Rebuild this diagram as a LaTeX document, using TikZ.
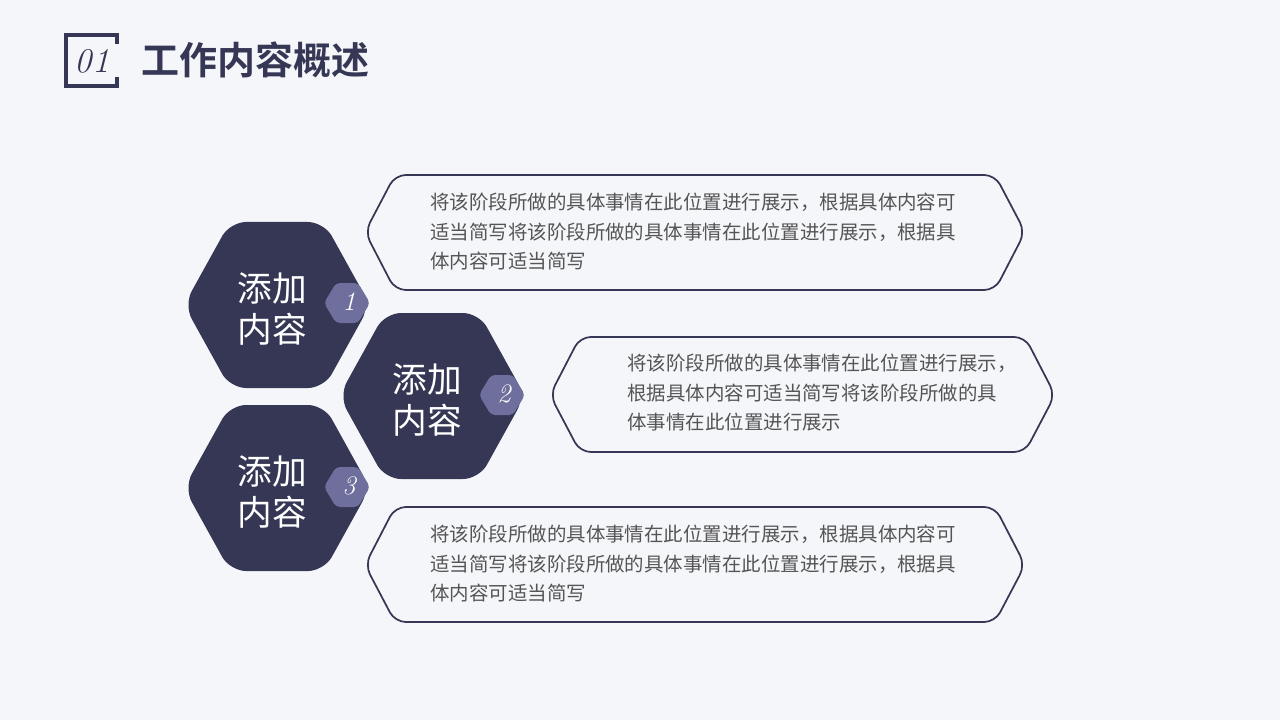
\documentclass[tikz,border=0pt]{standalone}
\usepackage{fontspec}
\newfontfamily\cjk{Noto Sans CJK SC}
\newfontfamily\cjkb{Noto Sans CJK SC Bold}
\definecolor{dark}{HTML}{363755}
\definecolor{mid}{HTML}{6E6F9C}
\definecolor{bg}{HTML}{F5F6FA}
\definecolor{txt}{HTML}{555555}
\tikzset{
  bighex/.style={fill=dark,rounded corners=12pt},
  smallhex/.style={fill=mid,rounded corners=3pt},
  outline/.style={draw=dark,line width=1.3pt,rounded corners=8pt},
  body/.style={anchor=north west,align=left,text=txt,font=\cjk\fontsize{14.6}{22}\selectfont,inner sep=0pt},
  hextext/.style={text=white,align=center,font=\cjk\fontsize{26}{31}\selectfont},
  numtext/.style={text=white,font=\itshape\fontsize{20}{20}\selectfont}
}
\begin{document}
\begin{tikzpicture}[x=0.75pt,y=-0.75pt]
\fill[bg] (0,0) rectangle (1280,720);
\useasboundingbox (0,0) rectangle (1280,720);
% header
\draw[dark,line width=3pt] (117,44) -- (117,35) -- (66,35) -- (66,86) -- (117,86) -- (117,77);
\node[text=dark,font=\itshape\fontsize{26}{26}\selectfont] (num) at (92,61) {01};
\node[text=dark,anchor=west,font=\cjkb\fontsize{28.5}{28.5}\selectfont] (title) at (137,60) {工作内容概述};
% outline boxes
\draw[outline] (365,232) -- (395,175) -- (995,175) -- (1025,232) -- (995,290) -- (395,290) -- cycle;
\draw[outline] (550,395) -- (580,337) -- (1025,337) -- (1055,395) -- (1025,452) -- (580,452) -- cycle;
\draw[outline] (365,565) -- (395,507) -- (995,507) -- (1025,565) -- (995,622) -- (395,622) -- cycle;
\node[body] (t1) at (430,193) {将该阶段所做的具体事情在此位置进行展示，根据具体内容可\\适当简写将该阶段所做的具体事情在此位置进行展示，根据具\\体内容可适当简写};
\node[body] (t2) at (627,354) {将该阶段所做的具体事情在此位置进行展示，\\根据具体内容可适当简写将该阶段所做的具\\体事情在此位置进行展示};
\node[body] (t3) at (430,525) {将该阶段所做的具体事情在此位置进行展示，根据具体内容可\\适当简写将该阶段所做的具体事情在此位置进行展示，根据具\\体内容可适当简写};
% big hexes
\foreach \cx/\cy in {277/305,432/396,277/488}{
  \fill[bighex] (\cx-93,\cy) -- (\cx-47,\cy-83) -- (\cx+47,\cy-83) -- (\cx+93,\cy) -- (\cx+47,\cy+83) -- (\cx-47,\cy+83) -- cycle;
}
\node[hextext] (l1) at (272,309) {添加\\内容};
\node[hextext] (l2) at (427,400) {添加\\内容};
\node[hextext] (l3) at (272,492) {添加\\内容};
% small hexes
\foreach \cx/\cy in {347/303,502/395,347/487}{
  \fill[smallhex] (\cx-23,\cy) -- (\cx-11,\cy-20) -- (\cx+11,\cy-20) -- (\cx+23,\cy) -- (\cx+11,\cy+20) -- (\cx-11,\cy+20) -- cycle;
}
\node[numtext] (n1) at (349,302) {1};
\node[numtext] (n2) at (504,394) {2};
\node[numtext] (n3) at (349,486) {3};
\end{tikzpicture}
\end{document}
